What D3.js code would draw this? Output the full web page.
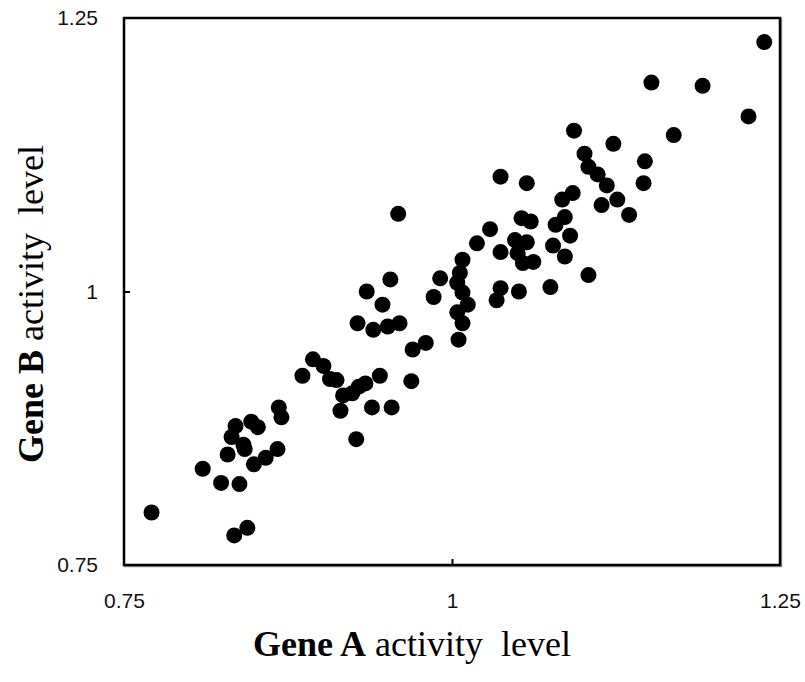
<!DOCTYPE html>
<html lang="en">
	<head>
		<meta charset="utf-8">
		<title>Gene activity scatter</title>
		<script type="text/javascript" src="https://cdn.jsdelivr.net/npm/d3@7"></script>
		<style type="text/css">
			body{
				margin: 0;
				background: white;
			}
			.tick text{
				font-family: "Liberation Sans", Arial, sans-serif;
				font-size: 21px;
				fill: #111;
			}
			.title{
				font-family: "Liberation Serif", "Times New Roman", serif;
				font-size: 36px;
				fill: black;
			}
		</style>
	</head>
	<body>
		<div class="chart">
		</div>
		<script type="text/javascript">

			var w = 805;
			var h = 682;

			var padLeft = 124;
			var padTop = 18;
			var chartW = 656;
			var chartH = 547;

			// Gene A activity (x) and Gene B activity (y)
			var geneA = [
				0.771, 0.834, 0.844, 0.810, 0.824, 0.838, 0.829, 0.832, 0.835, 0.841,
				0.842, 0.847, 0.852, 0.849, 0.858, 0.867, 0.868, 0.870, 0.886, 0.894,
				0.902, 0.907, 0.912, 0.915, 0.917, 0.924, 0.929, 0.934, 0.927, 0.939,
				0.954, 0.945, 0.969, 0.970, 0.980, 0.928, 0.940, 0.951, 0.960, 0.935,
				0.947, 0.953, 0.959, 0.986, 0.991, 1.008, 1.006, 1.004, 1.008, 1.012,
				1.004, 1.008, 1.005, 1.019, 1.029, 1.037, 1.057, 1.037, 1.034, 1.037,
				1.051, 1.053, 1.060, 1.048, 1.057, 1.050, 1.054, 1.062, 1.075, 1.079,
				1.086, 1.090, 1.077, 1.086, 1.104, 1.092, 1.084, 1.101, 1.104, 1.111,
				1.118, 1.114, 1.126, 1.135, 1.093, 1.123, 1.147, 1.146, 1.169, 1.152,
				1.191, 1.226, 1.238
			];
			var geneB = [
				0.798, 0.777, 0.784, 0.838, 0.825, 0.824, 0.851, 0.867, 0.877, 0.860,
				0.856, 0.881, 0.876, 0.842, 0.848, 0.856, 0.894, 0.885, 0.923, 0.938,
				0.932, 0.920, 0.919, 0.891, 0.905, 0.907, 0.913, 0.916, 0.865, 0.894,
				0.894, 0.923, 0.918, 0.947, 0.953, 0.971, 0.965, 0.968, 0.971, 1.000,
				0.988, 1.011, 1.071, 0.995, 1.012, 1.029, 1.017, 1.008, 0.999, 0.988,
				0.981, 0.971, 0.956, 1.044, 1.057, 1.105, 1.099, 1.036, 0.992, 1.003,
				1.000, 1.067, 1.064, 1.047, 1.045, 1.035, 1.026, 1.027, 1.004, 1.061,
				1.068, 1.051, 1.042, 1.032, 1.015, 1.090, 1.084, 1.126, 1.114, 1.107,
				1.097, 1.079, 1.084, 1.070, 1.147, 1.135, 1.119, 1.099, 1.143, 1.191,
				1.188, 1.160, 1.228
			];

			var tickValues = [0.75, 1, 1.25];
			var tickLabels = ["0.75", "1", "1.25"];

			var dataset = geneA.map((d, i) => [d, geneB[i]]);

			var svg = d3.select("div.chart")
						.append("svg")
						.attr("width", w)
						.attr("height", h);

			var xScale = d3.scaleLinear()
						.domain([0.75, 1.25])
						.range([padLeft, padLeft + chartW]);

			var yScale = d3.scaleLinear()
						.domain([0.75, 1.25])
						.range([padTop + chartH, padTop]);

			var xAxis = d3.axisBottom(xScale)
						.tickValues(tickValues)
						.tickFormat((d, i) => tickLabels[i])
						.tickSizeInner(-6)
						.tickSizeOuter(0)
						.tickPadding(28);

			var yAxis = d3.axisLeft(yScale)
						.tickValues(tickValues)
						.tickFormat((d, i) => tickLabels[i])
						.tickSizeInner(-6)
						.tickSizeOuter(0)
						.tickPadding(26);

			// plot frame with soft grey shadow
			svg.append("rect")
				.attr("x", padLeft + 1)
				.attr("y", padTop + 1)
				.attr("width", chartW)
				.attr("height", chartH)
				.attr("fill", "none")
				.attr("stroke", "#999")
				.attr("stroke-width", 2.5);

			svg.append("rect")
				.attr("x", padLeft)
				.attr("y", padTop)
				.attr("width", chartW)
				.attr("height", chartH)
				.attr("fill", "white")
				.attr("stroke", "black")
				.attr("stroke-width", 2.5);

			var gx = svg.append("g")
				.attr("class", "xAxis")
				.attr("transform", "translate(0," + (padTop + chartH) + ")")
				.call(xAxis);

			var gy = svg.append("g")
				.attr("class", "yAxis")
				.attr("transform", "translate(" + padLeft + ",0)")
				.call(yAxis);

			svg.selectAll(".domain").remove();
			svg.selectAll(".tick line")
				.attr("stroke", "black")
				.attr("stroke-width", 2);
			gx.selectAll(".tick line").filter((d) => d != 1).remove();
			gy.selectAll(".tick line").filter((d) => d != 1).remove();

			svg.selectAll("circle")
				.data(dataset)
				.enter()
				.append("circle")
				.attr("cx", (d) => xScale(d[0]))
				.attr("cy", (d) => yScale(d[1]))
				.attr("r", 8)
				.attr("fill", "black");

			var xt = svg.append("text")
				.attr("class", "title")
				.attr("text-anchor", "middle")
				.attr("x", 412)
				.attr("y", 656);
			xt.append("tspan").attr("font-weight", "bold").text("Gene A");
			xt.append("tspan").text(" activity\u00a0 level");

			var yt = svg.append("text")
				.attr("class", "title")
				.attr("text-anchor", "middle")
				.attr("font-size", "38px")
				.attr("transform", "translate(43,304) rotate(-90)");
			yt.append("tspan").attr("font-weight", "bold").text("Gene B");
			yt.append("tspan").text(" activity\u00a0 level");

		</script>
	</body>
</html>
